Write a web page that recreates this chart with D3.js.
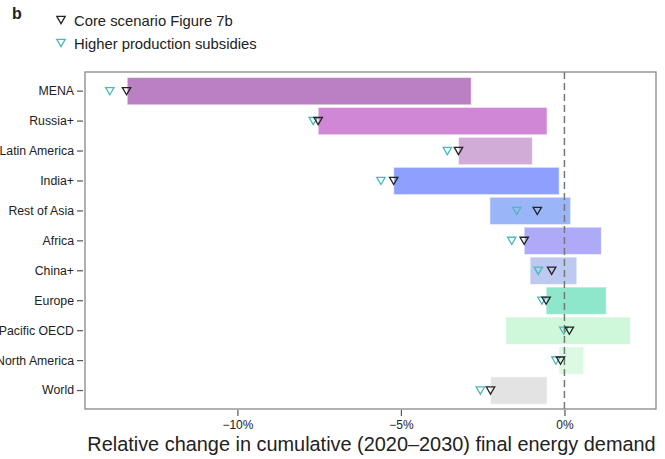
<!DOCTYPE html>
<html>
<head>
<meta charset="utf-8">
<script src="https://cdn.jsdelivr.net/npm/d3@7"></script>
<style>
  body { margin: 0; background: #fff; }
  text { font-family: "Liberation Sans", Arial, sans-serif; fill: #222; }
</style>
</head>
<body>
<div id="chart"></div>
<script>
// regions, top to bottom
var regions = ["MENA", "Russia+", "Latin America", "India+", "Rest of Asia", "Africa",
               "China+", "Europe", "Pacific OECD", "North America", "World"];

// bar extent (%), low and high end
var barLow  = [-13.37, -7.53, -3.24, -5.22, -2.28, -1.23, -1.05, -0.56, -1.79, -0.17, -2.26];
var barHigh = [-2.85, -0.53, -0.98, -0.16, 0.19, 1.13, 0.38, 1.28, 2.02, 0.59, -0.53];

// triangle markers (%)
var coreScenario = [-13.39, -7.53, -3.24, -5.22, -0.83, -1.23, -0.39, -0.56, 0.15, -0.12, -2.26];
var higherSubsidies = [-13.9, -7.68, -3.58, -5.61, -1.46, -1.61, -0.80, -0.69, -0.02, -0.26, -2.57];

var barColors = ["#bb7fc3", "#d088d6", "#d1acd6", "#8f9ffc", "#9bb6f8", "#adabf8",
                 "#bec9f1", "#8ee6cb", "#cff8da", "#dcfae3", "#e3e3e3"];

var xTicks = [-10, -5, 0];

var width = 665, height = 459;
var plot = {left: 85, right: 656, top: 72, bottom: 409};

var svg = d3.select("#chart").append("svg")
  .attr("width", width)
  .attr("height", height);

var x = d3.scaleLinear().domain([-14.66, 2.8]).range([plot.left, plot.right]);
var y = d3.scaleBand().domain(regions).range([plot.top + 2.9, plot.bottom - 2.2]).padding(0.085);

// bars
svg.append("g").selectAll("rect")
  .data(regions)
  .enter().append("rect")
  .attr("x", function(d, i) { return x(barLow[i]); })
  .attr("width", function(d, i) { return x(barHigh[i]) - x(barLow[i]); })
  .attr("y", function(d) { return y(d); })
  .attr("height", y.bandwidth())
  .attr("fill", function(d, i) { return barColors[i]; })
  .attr("stroke", "#ffffff")
  .attr("stroke-opacity", 0.6)
  .attr("stroke-width", 1);

// zero line
svg.append("line")
  .attr("x1", x(0)).attr("x2", x(0))
  .attr("y1", plot.top).attr("y2", plot.bottom)
  .attr("stroke", "#777")
  .attr("stroke-width", 1.5)
  .attr("stroke-dasharray", "7,4");

// down triangle
function tri(cx, cy) {
  var w = 4.2, h = 3.6;
  return "M" + (cx - w) + "," + (cy - h) + "L" + (cx + w) + "," + (cy - h) + "L" + cx + "," + (cy + h) + "Z";
}

function drawMarkers(vals, col) {
  svg.append("g").selectAll("path")
    .data(regions)
    .enter().append("path")
    .attr("d", function(d, i) { return tri(x(vals[i]), y(d) + y.bandwidth() / 2); })
    .attr("fill", "none")
    .attr("stroke", col)
    .attr("stroke-width", 1.3);
}
drawMarkers(higherSubsidies, "#4cb8b8");
drawMarkers(coreScenario, "#222");

// frame
svg.append("rect")
  .attr("x", plot.left).attr("y", plot.top)
  .attr("width", plot.right - plot.left)
  .attr("height", plot.bottom - plot.top)
  .attr("fill", "none")
  .attr("stroke", "#888")
  .attr("stroke-width", 1.3);

// y axis
var yAxis = svg.append("g")
  .attr("transform", "translate(" + (plot.left - 2) + ",0)")
  .call(d3.axisLeft(y).tickSize(6).tickPadding(3));
yAxis.select(".domain").remove();
yAxis.selectAll("line").attr("stroke", "#555").attr("stroke-width", 1.2);
yAxis.selectAll("text").style("font-size", "12.3px").style("font-family", "Liberation Sans, Arial, sans-serif").attr("fill", "#222");

// x axis
var xAxis = svg.append("g")
  .attr("transform", "translate(0," + (plot.bottom + 1) + ")")
  .call(d3.axisBottom(x).tickValues(xTicks).tickSize(6).tickPadding(4)
    .tickFormat(function(d) { return (d < 0 ? "\u2212" + Math.abs(d) : d) + "%"; }));
xAxis.select(".domain").remove();
xAxis.selectAll("line").attr("stroke", "#555").attr("stroke-width", 1.2);
xAxis.selectAll("text").style("font-size", "12px").style("font-family", "Liberation Sans, Arial, sans-serif").attr("fill", "#222");

// axis title
svg.append("text")
  .attr("x", 371.5)
  .attr("y", 451)
  .attr("text-anchor", "middle")
  .style("font-size", "19.9px")
  .text("Relative change in cumulative (2020\u20132030) final energy demand");

// panel letter
svg.append("text")
  .attr("x", 12).attr("y", 19)
  .style("font-size", "16px")
  .style("font-weight", "bold")
  .text("b");

// legend
var legend = [{label: "Core scenario Figure 7b", col: "#222"},
              {label: "Higher production subsidies", col: "#4cb8b8"}];
legend.forEach(function(l, i) {
  var ly = 21 + i * 23;
  svg.append("path")
    .attr("d", tri(61, ly - 1))
    .attr("fill", "none")
    .attr("stroke", l.col)
    .attr("stroke-width", 1.3);
  svg.append("text")
    .attr("x", 74).attr("y", ly + 5)
    .style("font-size", "14.8px")
    .text(l.label);
});
</script>
</body>
</html>
